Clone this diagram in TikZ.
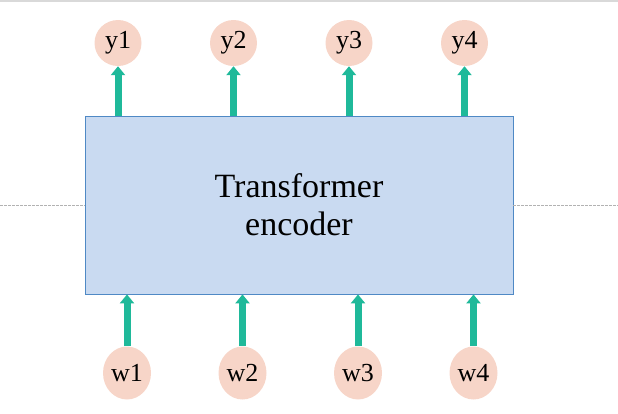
\documentclass[tikz,border=0pt]{standalone}
\usepackage{fontspec}
\setmainfont{Liberation Serif}
\usetikzlibrary{arrows.meta,shapes.geometric}
\definecolor{encfill}{HTML}{C9DAF1}
\definecolor{encline}{HTML}{4F89C5}
\definecolor{tokfill}{HTML}{F7D5C8}
\definecolor{arrowcol}{HTML}{1FB99A}
\tikzstyle{encoder} = [align=center,draw=encline,fill=encfill,rectangle,line width=0.8pt,minimum width=428pt,minimum height=178pt,font=\fontsize{34}{38}\selectfont]
\tikzstyle{outtok} = [ellipse,fill=tokfill,inner sep=0pt,minimum width=47pt,minimum height=46pt,font=\fontsize{26}{30}\selectfont]
\tikzstyle{intok} = [ellipse,fill=tokfill,inner sep=0pt,minimum width=48pt,minimum height=53pt,font=\fontsize{26}{30}\selectfont]
\tikzstyle{flow} = [draw=arrowcol,line width=7pt,-{Triangle[width=14pt,length=9pt]}]
\tikzstyle{guide} = [draw=black!30,line width=0.6pt,dash pattern=on 3pt off 1pt]

\begin{document}
\begin{tikzpicture}[x=1pt,y=-1pt,node distance=115.5pt]
				\useasboundingbox (0,0) rectangle (618,413);
				\node (enc) [encoder] at (299,205) {Transformer\\encoder};
				\node (y1) [outtok] at (118,43) {y1};
				\node (y2) [outtok,right of=y1] {y2};
				\node (y3) [outtok,right of=y2] {y3};
				\node (y4) [outtok,right of=y3] {y4};
				\node (w1) [intok] at (127,373) {w1};
				\node (w2) [intok,right of=w1] {w2};
				\node (w3) [intok,right of=w2] {w3};
				\node (w4) [intok,right of=w3] {w4};
				\draw [black!15,line width=1.5pt] (0,1) -- (618,1);
				\draw [guide] (0,205) -- (enc.west);
				\draw [guide] (enc.east) -- (618,205);
				\draw [flow] (enc.north -| y1) -- (y1);
				\draw [flow] (enc.north -| y2) -- (y2);
				\draw [flow] (enc.north -| y3) -- (y3);
				\draw [flow] (enc.north -| y4) -- (y4);
				\draw [flow] (w1) -- (w1 |- enc.south);
				\draw [flow] (w2) -- (w2 |- enc.south);
				\draw [flow] (w3) -- (w3 |- enc.south);
				\draw [flow] (w4) -- (w4 |- enc.south);
			\end{tikzpicture}
\end{document}
